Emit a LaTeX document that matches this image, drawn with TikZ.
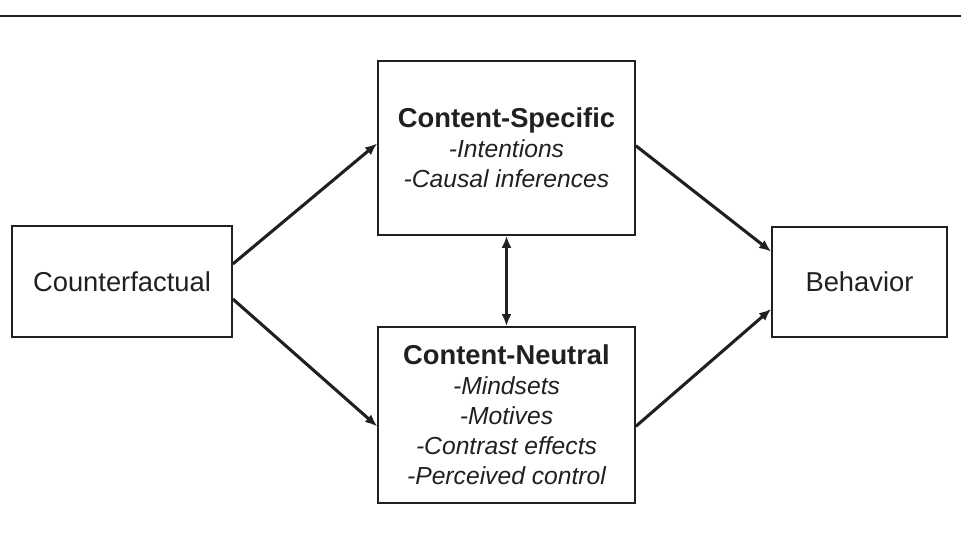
\documentclass[tikz,border=0pt]{standalone}
\usepackage{fontspec}
\setmainfont{Liberation Sans}
\usetikzlibrary{arrows.meta}

\definecolor{ink}{RGB}{35,31,32}
\tikzset{every picture/.style={line width=0.75pt}}
\tikzset{
  box/.style={draw=ink, line width=1.3pt, inner sep=0pt, align=center, text=ink},
  link/.style={draw=ink, line width=2.3pt, -{Latex[length=9pt,width=7.5pt]}},
  itemfont/.style={font=\fontsize{18.5}{22.5}\selectfont\itshape}
}
\newcommand{\boxtitle}[1]{{\fontsize{20.5}{22.5}\selectfont\bfseries\upshape #1}}

\begin{document}
\begin{tikzpicture}[x=0.75pt,y=0.75pt,yscale=-1,xscale=1]
\useasboundingbox (0,0) rectangle (961,543);

%Straight Lines [id:rule]
\draw [draw=ink, line width=1.6pt]  (0,16) -- (961,16) ;

%Shape: Rectangle [id:cf]
\node (cf) [box, minimum width=165pt, minimum height=83.25pt, font=\fontsize{20.5}{22.5}\selectfont] at (122,281.5) {Counterfactual};
%Shape: Rectangle [id:cs]
\node (cs) [box, itemfont, minimum width=192.75pt, minimum height=130.5pt] at (506.5,148) {\boxtitle{Content-Specific}\\-Intentions\\-Causal inferences};
%Shape: Rectangle [id:cn]
\node (cn) [box, itemfont, minimum width=192.75pt, minimum height=132pt] at (506.5,415) {\boxtitle{Content-Neutral}\\-Mindsets\\-Motives\\-Contrast effects\\-Perceived control};
%Shape: Rectangle [id:bh]
\node (bh) [box, minimum width=131.25pt, minimum height=82.5pt, font=\fontsize{20.5}{22.5}\selectfont] at (859.5,282) {Behavior};

%Straight Lines [id:cf-cs]
\draw [link]  (cf.9.5) -- (cs.178.5) ;
%Straight Lines [id:cf-cn]
\draw [link]  (cf.-9) -- (cn.185.3) ;
%Straight Lines [id:cs-bh]
\draw [link]  (cs.1.8) -- (bh.161.7) ;
%Straight Lines [id:cn-bh]
\draw [link]  (cn.-5.3) -- (bh.197.7) ;
%Straight Lines [id:cs-cn]
\draw [link, {Latex[length=9pt,width=7.5pt]}-{Latex[length=9pt,width=7.5pt]}]  (cs.south) -- (cn.north) ;

\end{tikzpicture}
\end{document}
